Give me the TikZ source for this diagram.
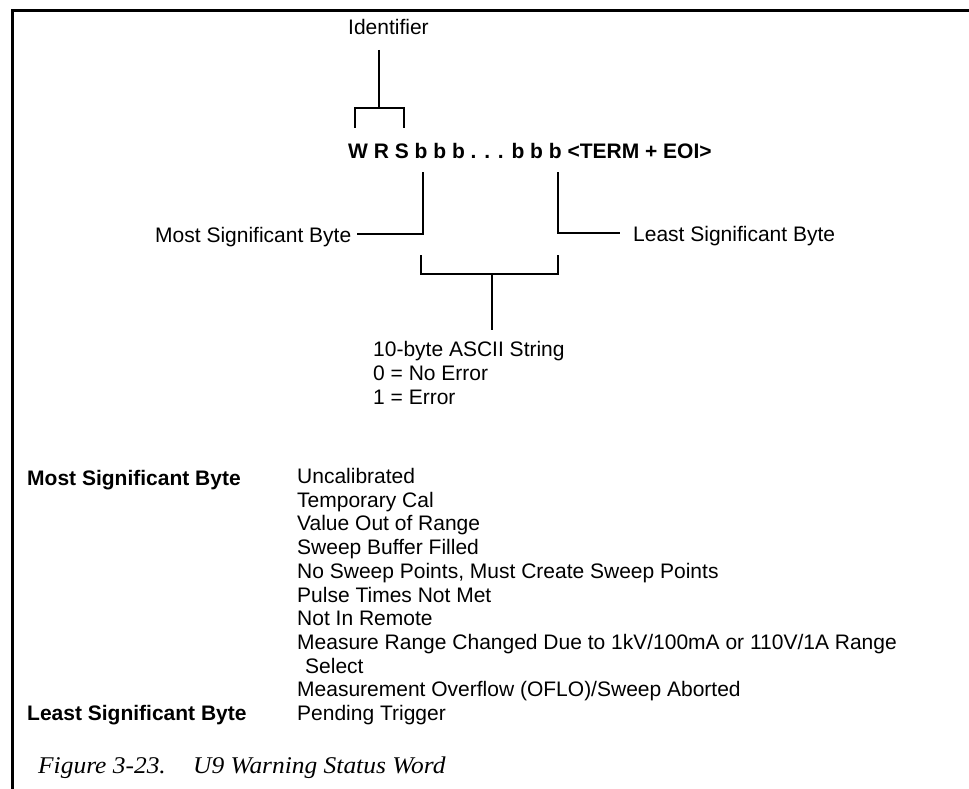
\documentclass[tikz,border=0pt]{standalone}
\usepackage{fontspec}
\setmainfont{Liberation Sans}
\newfontfamily\capfont[FakeStretch=1.06]{Liberation Serif}
\begin{document}
\begin{tikzpicture}[x=1pt,y=-1pt,
  txt/.style={inner sep=0pt, anchor=base west, font=\fontsize{21}{24}\selectfont},
  bold/.style={inner sep=0pt, anchor=base west, font=\fontsize{21}{24}\selectfont\bfseries},
  capt/.style={inner sep=0pt, anchor=base west, font=\capfont\itshape\fontsize{24}{27}\selectfont},
  conn/.style={line width=2.6pt, line cap=butt, line join=miter},
  frame/.style={line width=3pt, line cap=butt}]
\useasboundingbox (0,0) rectangle (969,789);
% frame
\coordinate (fbl) at (12,789);
\coordinate (ftl) at (12,11);
\coordinate (ftr) at (969,11);
\draw[frame] (fbl) -- (ftl) -- (ftr);

% identifier
\node[txt] (ident) at (348,35) {Identifier};
\node[bold] (word) at (348,159) {W R S b b b . . . b b b \textless TERM + EOI\textgreater};
\coordinate (idtop) at (379,50);
\coordinate (idmid) at (379,108);
\coordinate (idl) at (355,108);
\coordinate (idr) at (404,108);
\coordinate (idlb) at (355,128);
\coordinate (idrb) at (404,128);
\draw[conn] (idtop) -- (idmid);
\draw[conn] (idlb) -- (idl) -- (idr) -- (idrb);

% MSB / LSB
\node[txt] (msb) at (155,242) {Most Significant Byte};
\node[txt] (lsb) at (633,241) {Least Significant Byte};
\coordinate (msbtop) at (423,172);
\coordinate (msbc) at (423,234);
\coordinate (msbend) at (357,234);
\coordinate (lsbtop) at (558,172);
\coordinate (lsbc) at (558,233);
\coordinate (lsbend) at (620,233);
\draw[conn] (msbtop) -- (msbc) -- (msbend);
\draw[conn] (lsbtop) -- (lsbc) -- (lsbend);

% bottom bracket
\coordinate (bl) at (421,255);
\coordinate (blc) at (421,274);
\coordinate (brc) at (558,274);
\coordinate (br) at (558,255);
\coordinate (stemtop) at (492,274);
\coordinate (stembot) at (492,330);
\draw[conn] (bl) -- (blc) -- (brc) -- (br);
\draw[conn] (stemtop) -- (stembot);

\node[txt] (ascii) at (373,356) {10-byte ASCII String};
\node[txt] (zero) at (373,380) {0 = No Error};
\node[txt] (one) at (373,404) {1 = Error};

% table
\node[bold] (tmsb) at (27,485) {Most Significant Byte};
\node[bold] (tlsb) at (27,720) {Least Significant Byte};
\node[txt] (l1) at (297,483.5) {Uncalibrated};
\node[txt] (l2) at (297,507.2) {Temporary Cal};
\node[txt] (l3) at (297,530.9) {Value Out of Range};
\node[txt] (l4) at (297,554.6) {Sweep Buffer Filled};
\node[txt] (l5) at (297,578.3) {No Sweep Points, Must Create Sweep Points};
\node[txt] (l6) at (297,602.0) {Pulse Times Not Met};
\node[txt] (l7) at (297,625.7) {Not In Remote};
\node[txt] (l8) at (297,649.4) {Measure Range Changed Due to 1kV/100mA or 110V/1A Range};
\node[txt] (l9) at (305,673.1) {Select};
\node[txt] (l10) at (297,696.8) {Measurement Overflow (OFLO)/Sweep Aborted};
\node[txt] (l11) at (297,720.5) {Pending Trigger};

% caption
\node[capt] (cap1) at (38,773) {Figure 3-23.};
\node[capt] (cap2) at (193,773) {U9 Warning Status Word};
\end{tikzpicture}
\end{document}
